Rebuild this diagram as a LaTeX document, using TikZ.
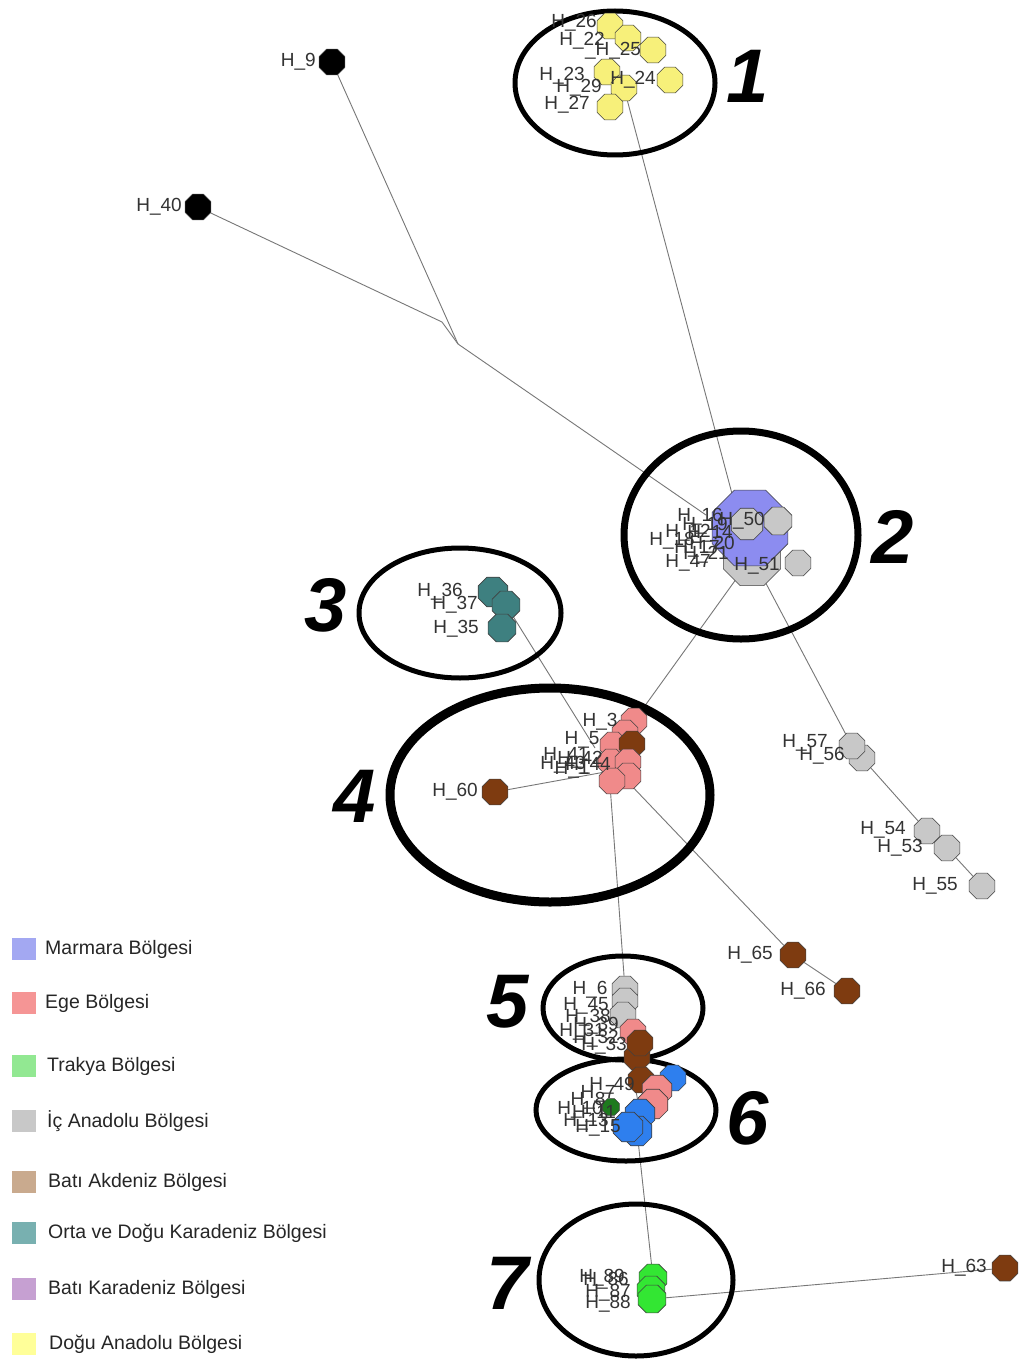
\documentclass[tikz,border=0pt]{standalone}
\usepackage{fontspec}
\setmainfont{Liberation Sans}
\usetikzlibrary{shapes.geometric,backgrounds}
\definecolor{edgec}{HTML}{777777}
\definecolor{labc}{HTML}{333333}
\definecolor{yel}{HTML}{F7F07A}
\definecolor{marm}{HTML}{8C8CF0}
\definecolor{gry}{HTML}{C8C8C8}
\definecolor{pnk}{HTML}{F08A8A}
\definecolor{brn}{HTML}{7E3B10}
\definecolor{teal}{HTML}{3E8080}
\definecolor{blu}{HTML}{2E7FEE}
\definecolor{grn}{HTML}{33E633}
\definecolor{dgrn}{HTML}{1E7A1E}
\definecolor{lgMarm}{HTML}{A3A8F2}
\definecolor{lgEge}{HTML}{F59595}
\definecolor{lgTrak}{HTML}{92E892}
\definecolor{lgIc}{HTML}{C8C8C8}
\definecolor{lgBak}{HTML}{C9AA8E}
\definecolor{lgOdk}{HTML}{78B0B0}
\definecolor{lgBk}{HTML}{C6A0D2}
\definecolor{lgDa}{HTML}{FFFF99}
\begin{document}
\begin{tikzpicture}[x=1pt,y=-1pt,
  hap/.style={regular polygon,regular polygon sides=8,draw=black!75,line width=0.6pt,minimum size=28pt,inner sep=0pt},
  lab/.style={inner sep=0pt,text=labc,font=\fontsize{19}{20}\selectfont},
  grp/.style={ellipse,draw=black,inner sep=0pt},
  edge/.style={draw=edgec,line width=0.9pt},
  num/.style={inner sep=0pt,font=\fontsize{76}{76}\selectfont\bfseries\itshape},
  lgbox/.style={minimum width=24pt,minimum height=22pt,inner sep=0pt},
  lgtext/.style={anchor=west,inner sep=0pt,text=black!85,font=\fontsize{19.5}{20}\selectfont}]
\useasboundingbox (0,0) rectangle (1019,1367);

% ---------- group ellipses
\node[grp,line width=5pt,minimum width=200pt,minimum height=144pt] (g1) at (615,83) {};
\node[grp,line width=7pt,minimum width=234pt,minimum height=208pt] (g2) at (741,535) {};
\node[grp,line width=5pt,minimum width=202pt,minimum height=130pt] (g3) at (460,613) {};
\node[grp,line width=9pt,minimum width=320pt,minimum height=214pt] (g4) at (550,795) {};
\node[grp,line width=5pt,minimum width=160pt,minimum height=104pt] (g5) at (623,1008) {};
\node[grp,line width=5pt,minimum width=180pt,minimum height=102pt] (g6) at (626,1110) {};
\node[grp,line width=5pt,minimum width=194pt,minimum height=152pt] (g7) at (636,1280) {};

% ---------- group numbers
\node[num] (n1) at (748,76) {1};
\node[num] (n2) at (893,537) {2};
\node[num] (n3) at (326,605) {3};
\node[num] (n4) at (355,796) {4};
\node[num] (n5) at (508,1002) {5};
\node[num] (n6) at (748,1118) {6};
\node[num] (n7) at (508,1283) {7};

% ---------- black outliers
\node[hap,fill=black] (h9) at (332,62) {};
\node[hap,fill=black] (h40) at (198,207) {};
\coordinate (j0) at (442,322);
\coordinate (j1) at (458,344);

% ---------- cluster 1 (yellow)
\node[hap,fill=yel] (y1) at (610,26) {};
\node[hap,fill=yel] (y2) at (628,38) {};
\node[hap,fill=yel] (y3) at (653,50) {};
\node[hap,fill=yel] (y4) at (670,80) {};
\node[hap,fill=yel] (y5) at (607,72) {};
\node[hap,fill=yel] (y6) at (624,88) {};
\node[hap,fill=yel] (y7) at (610,107) {};

% ---------- cluster 2
\node[hap,fill=gry,minimum size=62pt] (c2g) at (752,557) {};
\node[hap,fill=marm,minimum size=82pt] (c2m) at (750,528) {};
\node[hap,fill=gry,minimum size=34pt] (c2a) at (747,524) {};
\node[hap,fill=gry,minimum size=30pt] (c2b) at (778,521) {};
\node[hap,fill=gry,minimum size=28pt] (c2c) at (798,563) {};
\coordinate (hub2) at (706,515);
\coordinate (hub2b) at (735,505);

% ---------- right grey chain
\node[hap,fill=gry] (h56) at (862,758) {};
\node[hap,fill=gry] (h57) at (852,746) {};
\node[hap,fill=gry] (h53) at (947,848) {};
\node[hap,fill=gry] (h54) at (927,831) {};
\node[hap,fill=gry] (h55) at (982,886) {};

% ---------- cluster 3 (teal)
\node[hap,fill=teal,minimum size=32pt] (h36) at (493,592) {};
\node[hap,fill=teal,minimum size=30pt] (h37) at (506,605) {};
\node[hap,fill=teal,minimum size=30pt] (h35) at (502,628) {};

% ---------- cluster 4
\node[hap,fill=pnk] (e1) at (634,721) {};
\node[hap,fill=pnk] (e2) at (625,733) {};
\node[hap,fill=pnk] (e3) at (613,745) {};
\node[hap,fill=brn] (b1) at (632,744) {};
\node[hap,fill=pnk] (e4) at (611,762) {};
\node[hap,fill=pnk] (e5) at (628,762) {};
\node[hap,fill=pnk] (e7) at (628,776) {};
\node[hap,fill=pnk] (e6) at (612,781) {};
\node[hap,fill=brn] (h60) at (495,792) {};
\coordinate (hub4) at (595,748);
\coordinate (hub4b) at (605,772);
\coordinate (hub4c) at (610,785);
\coordinate (hub4d) at (628,782);

% ---------- brown chain
\node[hap,fill=brn] (h65) at (793,955) {};
\node[hap,fill=brn] (h66) at (847,991) {};

% ---------- cluster 5
\node[hap,fill=gry] (f1) at (625,989) {};
\node[hap,fill=gry] (f2) at (625,1001) {};
\node[hap,fill=gry] (f3) at (623,1015) {};
\node[hap,fill=pnk] (f4) at (633,1032) {};
\node[hap,fill=brn] (f6) at (637,1057) {};
\node[hap,fill=brn] (f5) at (640,1043) {};

% ---------- cluster 6
\node[hap,fill=blu] (k1) at (673,1078) {};
\node[hap,fill=brn] (k0) at (641,1080) {};
\node[hap,fill=pnk,minimum size=32pt] (k2) at (657,1090) {};
\node[hap,fill=pnk,minimum size=32pt] (k3) at (653,1104) {};
\node[hap,fill=blu,minimum size=32pt] (k4) at (640,1114) {};
\node[hap,fill=blu,minimum size=32pt] (k5) at (637,1131) {};
\node[hap,fill=blu,minimum size=32pt] (k6) at (628,1127) {};
\node[hap,fill=dgrn,minimum size=18pt] (k7) at (611,1107) {};

% ---------- cluster 7
\node[hap,fill=grn,minimum size=30pt] (t1) at (653,1278) {};
\node[hap,fill=grn,minimum size=30pt] (t2) at (651,1290) {};
\node[hap,fill=grn,minimum size=30pt] (t3) at (652,1299) {};
\node[hap,fill=brn] (h63) at (1005,1268) {};

% ---------- connectors (behind)
\begin{scope}[on background layer]
\fill[white] (0,0) rectangle (1019,1367);
\draw[edge] (h40) -- (j0) -- (j1);
\draw[edge] (h9) -- (j1);
\draw[edge] (j1) -- (hub2);
\draw[edge] (y6) -- (hub2b);
\draw[edge] (c2g.center) -- (e1.center);
\draw[edge] (c2g.center) -- (h57);
\draw[edge] (h57) -- (h56) -- (h54) -- (h53) -- (h55);
\draw[edge] (h37) -- (hub4);
\draw[edge] (h60) -- (hub4b);
\draw[edge] (hub4c) -- (f1);
\draw[edge] (hub4d) -- (h65) -- (h66);
\draw[edge] (f3) -- (k4);
\draw[edge] (k5) -- (t1);
\draw[edge] (t3) -- (h63);
\end{scope}

% ---------- labels
\node[lab,anchor=east] (l9) at (316,62) {H\_9};
\node[lab,anchor=east] (l40) at (182,207) {H\_40};

\node[lab] (l26) at (574,23) {H\_26};
\node[lab] (l22) at (582,41) {H\_22};
\node[lab] (l25) at (613,51) {\_H\_25};
\node[lab] (l23) at (562,76) {H\_23};
\node[lab] (l29) at (579,88) {H\_29};
\node[lab] (l24) at (633,80) {H\_24};
\node[lab] (l27) at (567,105) {H\_27};

\node[lab] (l50) at (742,521) {H\_50};
\node[lab] (l51) at (757,566) {H\_51};
\node[lab] (l47) at (688,563) {H\_47};
\node[lab] (lc21) at (700,517) {H\_16};
\node[lab] (lc22) at (705,526) {H\_19};
\node[lab] (lc23) at (688,533) {H\_12};
\node[lab] (lc24) at (710,534) {H\_14};
\node[lab] (lc25) at (672,541) {H\_18};
\node[lab] (lc26) at (712,545) {H\_20};
\node[lab] (lc27) at (697,549) {H\_17};
\node[lab] (lc28) at (706,555) {H\_21};

\node[lab] (l36) at (440,592) {H\_36};
\node[lab] (l37) at (455,605) {H\_37};
\node[lab] (l35) at (456,629) {H\_35};

\node[lab] (l57) at (805,743) {H\_57};
\node[lab] (l56) at (822,756) {H\_56};
\node[lab] (l54) at (883,830) {H\_54};
\node[lab] (l53) at (900,848) {H\_53};
\node[lab] (l55) at (935,886) {H\_55};
\node[lab] (l65) at (750,955) {H\_65};
\node[lab] (l66) at (803,991) {H\_66};

\node[lab] (l3) at (600,722) {H\_3};
\node[lab] (l5) at (582,740) {H\_5};
\node[lab] (lc41) at (566,756) {H\_41};
\node[lab] (lc42) at (580,760) {H\_42};
\node[lab] (lc43) at (563,765) {H\_43};
\node[lab] (lc44) at (588,766) {H\_44};
\node[lab] (lc45) at (572,770) {H\_1};
\node[lab,anchor=east] (l60) at (478,792) {H\_60};

\node[lab] (l6) at (590,990) {H\_6};
\node[lab] (l45) at (586,1006) {H\_45};
\node[lab] (lc51) at (588,1018) {H\_38};
\node[lab] (lc52) at (596,1026) {H\_39};
\node[lab] (lc53) at (582,1032) {H\_31};
\node[lab] (lc54) at (596,1039) {H\_32};
\node[lab] (lc55) at (604,1046) {H\_33};

\node[lab] (lc61) at (612,1086) {H\_49};
\node[lab] (lc62) at (598,1094) {H\_7};
\node[lab] (lc63) at (588,1101) {H\_8};
\node[lab] (lc64) at (580,1110) {H\_10};
\node[lab] (lc65) at (594,1114) {H\_11};
\node[lab] (lc66) at (586,1122) {H\_13};
\node[lab] (lc67) at (598,1128) {H\_15};

\node[lab] (l89) at (602,1278) {H\_89};
\node[lab] (l86) at (606,1281) {H\_86};
\node[lab] (l87) at (608,1293) {H\_87};
\node[lab] (l88) at (608,1304) {H\_88};
\node[lab,anchor=east] (l63) at (987,1268) {H\_63};

% ---------- legend
\node[lgbox,fill=lgMarm] (k_marm) at (24,949) {};
\node[lgtext] (t_marm) at (45,949) {Marmara Bölgesi};
\node[lgbox,fill=lgEge] (k_ege) at (24,1003) {};
\node[lgtext] (t_ege) at (45,1003) {Ege Bölgesi};
\node[lgbox,fill=lgTrak] (k_trak) at (24,1066) {};
\node[lgtext] (t_trak) at (47,1066) {Trakya Bölgesi};
\node[lgbox,fill=lgIc] (k_ic) at (24,1121) {};
\node[lgtext] (t_ic) at (47,1121) {İç Anadolu Bölgesi};
\node[lgbox,fill=lgBak] (k_bak) at (24,1182) {};
\node[lgtext] (t_bak) at (48,1182) {Batı Akdeniz Bölgesi};
\node[lgbox,fill=lgOdk] (k_odk) at (24,1233) {};
\node[lgtext] (t_odk) at (48,1233) {Orta ve Doğu Karadeniz Bölgesi};
\node[lgbox,fill=lgBk] (k_bk) at (24,1289) {};
\node[lgtext] (t_bk) at (48,1289) {Batı Karadeniz Bölgesi};
\node[lgbox,fill=lgDa] (k_da) at (24,1344) {};
\node[lgtext] (t_da) at (49,1344) {Doğu Anadolu Bölgesi};
\end{tikzpicture}
\end{document}
